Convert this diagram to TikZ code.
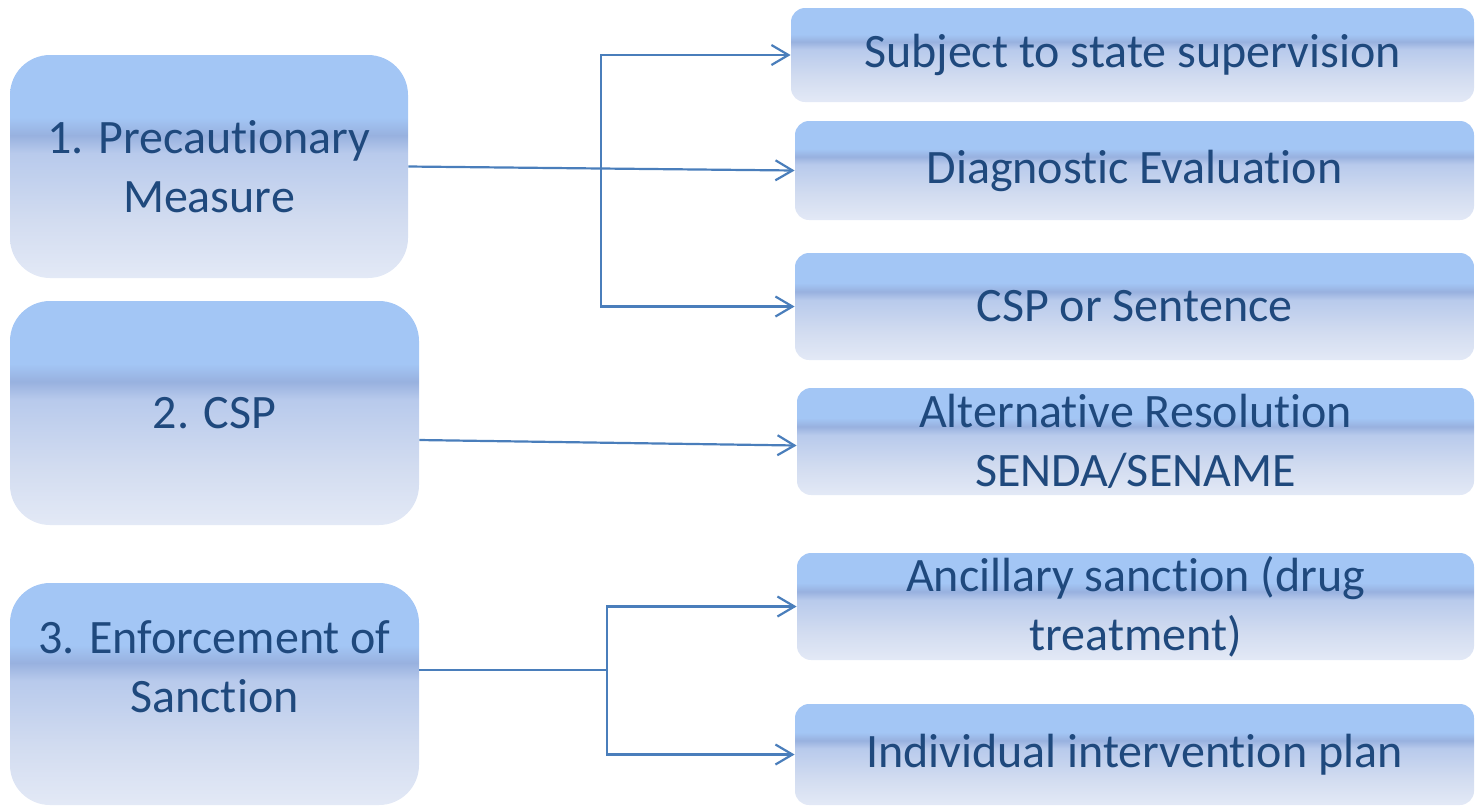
\documentclass[tikz,border=0pt]{standalone}
\usepackage{fontspec}
\setmainfont{Carlito}[Ligatures=NoCommon]
\usepackage{tikz}
\usetikzlibrary{shapes}
\usetikzlibrary{arrows.meta}
\definecolor{boxtop}{HTML}{A3C6F5}
\definecolor{boxband}{HTML}{98B1DF}
\definecolor{boxmid}{HTML}{B8CAEC}
\definecolor{boxlow}{HTML}{D2DCF0}
\definecolor{boxbot}{HTML}{E3E9F6}
\definecolor{textblue}{HTML}{1F497D}
\definecolor{lineblue}{HTML}{4A7EBB}
\pgfdeclareverticalshading{boxshade}{100bp}{color(0bp)=(boxbot); color(25bp)=(boxbot); color(38bp)=(boxlow); color(53bp)=(boxmid); color(57bp)=(boxband); color(61bp)=(boxtop); color(75bp)=(boxtop); color(100bp)=(boxtop)}
\tikzset{
    mynodes/.style = {rectangle, rounded corners=20pt, shading=boxshade, align=center, inner sep=0pt, text=textblue, font=\fontsize{24}{29.5}\selectfont},
    mynodeo/.style = {rectangle, rounded corners=7pt, shading=boxshade, align=center, inner sep=0pt, text=textblue, font=\fontsize{24}{29.5}\selectfont},
    edgea/.style = {-{Straight Barb[length=8.5pt,width=10pt]}, line width=1.1pt, lineblue},
    edgen/.style = {-, line width=1.1pt, lineblue}
}

\begin{document}
\begin{tikzpicture}[x=0.5pt, y=-0.5pt]
  \useasboundingbox (0,0) rectangle (1476,805);
  % stages
  \node[mynodes, minimum width=199pt, minimum height=111.5pt] (pm) at (209,166.5) {1. Precautionary\\Measure};
  \node[mynodes, minimum width=204.5pt, minimum height=112pt] (csp) at (214.5,413) {2. CSP};
  \node[mynodes, minimum width=204.5pt, minimum height=111pt, text depth=27pt] (es) at (214.5,694) {3. Enforcement of\\Sanction};
  % outcomes
  \node[mynodeo, minimum width=341.5pt, minimum height=47pt] (sup) at (1132.5,55) {Subject to state supervision};
  \node[mynodeo, minimum width=339.5pt, minimum height=49.5pt] (diag) at (1134.5,170.5) {Diagnostic Evaluation};
  \node[mynodeo, minimum width=339.5pt, minimum height=53.5pt] (sent) at (1134.5,306.5) {CSP or Sentence};
  \node[mynodeo, minimum width=338.5pt, minimum height=53.5pt] (alt) at (1135.5,441.5) {Alternative Resolution\\SENDA/SENAME};
  \node[mynodeo, minimum width=338.5pt, minimum height=53.5pt] (anc) at (1135.5,606.5) {Ancillary sanction (drug\\treatment)};
  \node[mynodeo, minimum width=339.5pt, minimum height=50.5pt] (iip) at (1134.5,754.5) {Individual intervention plan};

  \coordinate (j1) at (601,167);
  \coordinate (j3) at (607,670);

  \draw[edgea] (pm.east) -- (diag.west);
  \draw[edgea] (j1) |- (sup.west);
  \draw[edgea] (j1) |- (sent.west);
  \draw[edgea] ([yshift=-13.5pt]csp.east) -- ([yshift=-2pt]alt.west);
  \draw[edgen] ([yshift=12pt]es.east) -- (j3);
  \draw[edgea] (j3) |- (anc.west);
  \draw[edgea] (j3) |- (iip.west);
\end{tikzpicture}
\end{document}
